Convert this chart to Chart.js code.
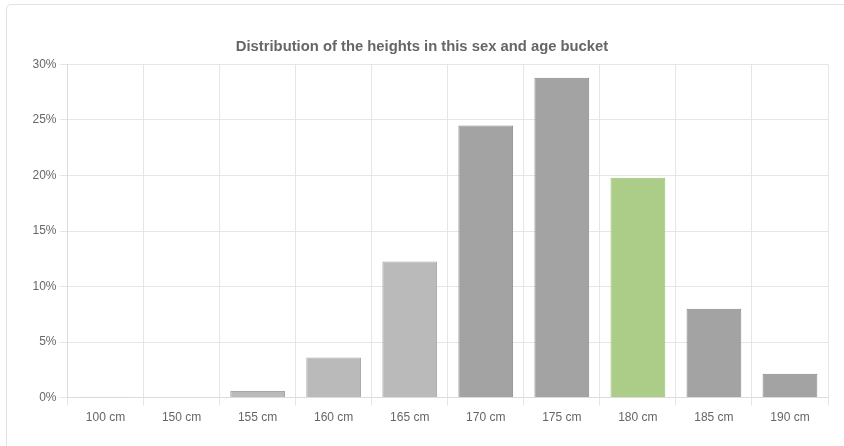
<!DOCTYPE html>
<html>
<head>
<meta charset="utf-8">
<script src="https://cdn.jsdelivr.net/npm/chart.js@4/dist/chart.umd.min.js"></script>
<style>
  html, body { margin: 0; padding: 0; background: #fff; width: 844px; height: 446px; overflow: hidden; }
  .card { position: absolute; left: 6px; top: 4px; width: 900px; height: 500px; border: 1px solid #e3e3e3; border-radius: 5px; box-sizing: border-box; }
  #chart { position: absolute; left: 0; top: 0; }
</style>
</head>
<body>
<div class="card"></div>
<canvas id="chart" width="844" height="446"></canvas>
<script>
// Height buckets and the share of people in each (percent)
const heightLabels = ['100 cm', '150 cm', '155 cm', '160 cm', '165 cm', '170 cm', '175 cm', '180 cm', '185 cm', '190 cm'];
const shares = [0.08, 0, 0.6, 3.6, 12.25, 24.5, 28.8, 19.8, 8.0, 2.15];
// Bar tone per bucket: lighter below 170 cm, the selected bucket in green
const barTones = ['light', 'light', 'light', 'light', 'light', 'dark', 'dark', 'selected', 'dark', 'dark'];
const yTicks = [0, 5, 10, 15, 20, 25, 30];

const fills = { light: '#bababa', dark: '#a3a3a3', selected: '#abcd88' };
const borders = { light: '#a6a6a6', dark: '#888888', selected: '#98c571' };

const font = "'Liberation Sans', Arial, Helvetica, sans-serif";
Chart.defaults.font.family = font;
Chart.defaults.color = '#666';

new Chart(document.getElementById('chart'), {
  type: 'bar',
  data: {
    labels: heightLabels,
    datasets: [{
      data: shares,
      backgroundColor: barTones.map(t => fills[t]),
      borderColor: barTones.map(t => borders[t]),
      borderWidth: 1,
      barPercentage: 0.9,
      categoryPercentage: 0.8
    }]
  },
  options: {
    responsive: false,
    animation: false,
    layout: { padding: { left: 16, right: 16, top: 27.7, bottom: 16 } },
    plugins: {
      legend: { display: false },
      tooltip: { enabled: false },
      title: {
        display: true,
        text: 'Distribution of the heights in this sex and age bucket',
        color: '#666',
        font: { size: 14.8, weight: 'bold', family: font },
        padding: { top: 10, bottom: 9 }
      }
    },
    scales: {
      x: {
        grid: { color: '#e6e6e6', tickLength: 8, offset: true },
        border: { color: '#dcdcdc' },
        ticks: { font: { size: 12 }, color: '#666', padding: 5 }
      },
      y: {
        min: 0,
        max: 30,
        afterBuildTicks: axis => { axis.ticks = yTicks.map(v => ({ value: v })); },
        afterFit: axis => { axis.width = 51.5; },
        grid: { color: '#e6e6e6', tickLength: 8 },
        border: { color: '#dcdcdc' },
        ticks: { font: { size: 12 }, color: '#666', padding: 3, callback: v => v + '%' }
      }
    }
  }
});
</script>
</body>
</html>
